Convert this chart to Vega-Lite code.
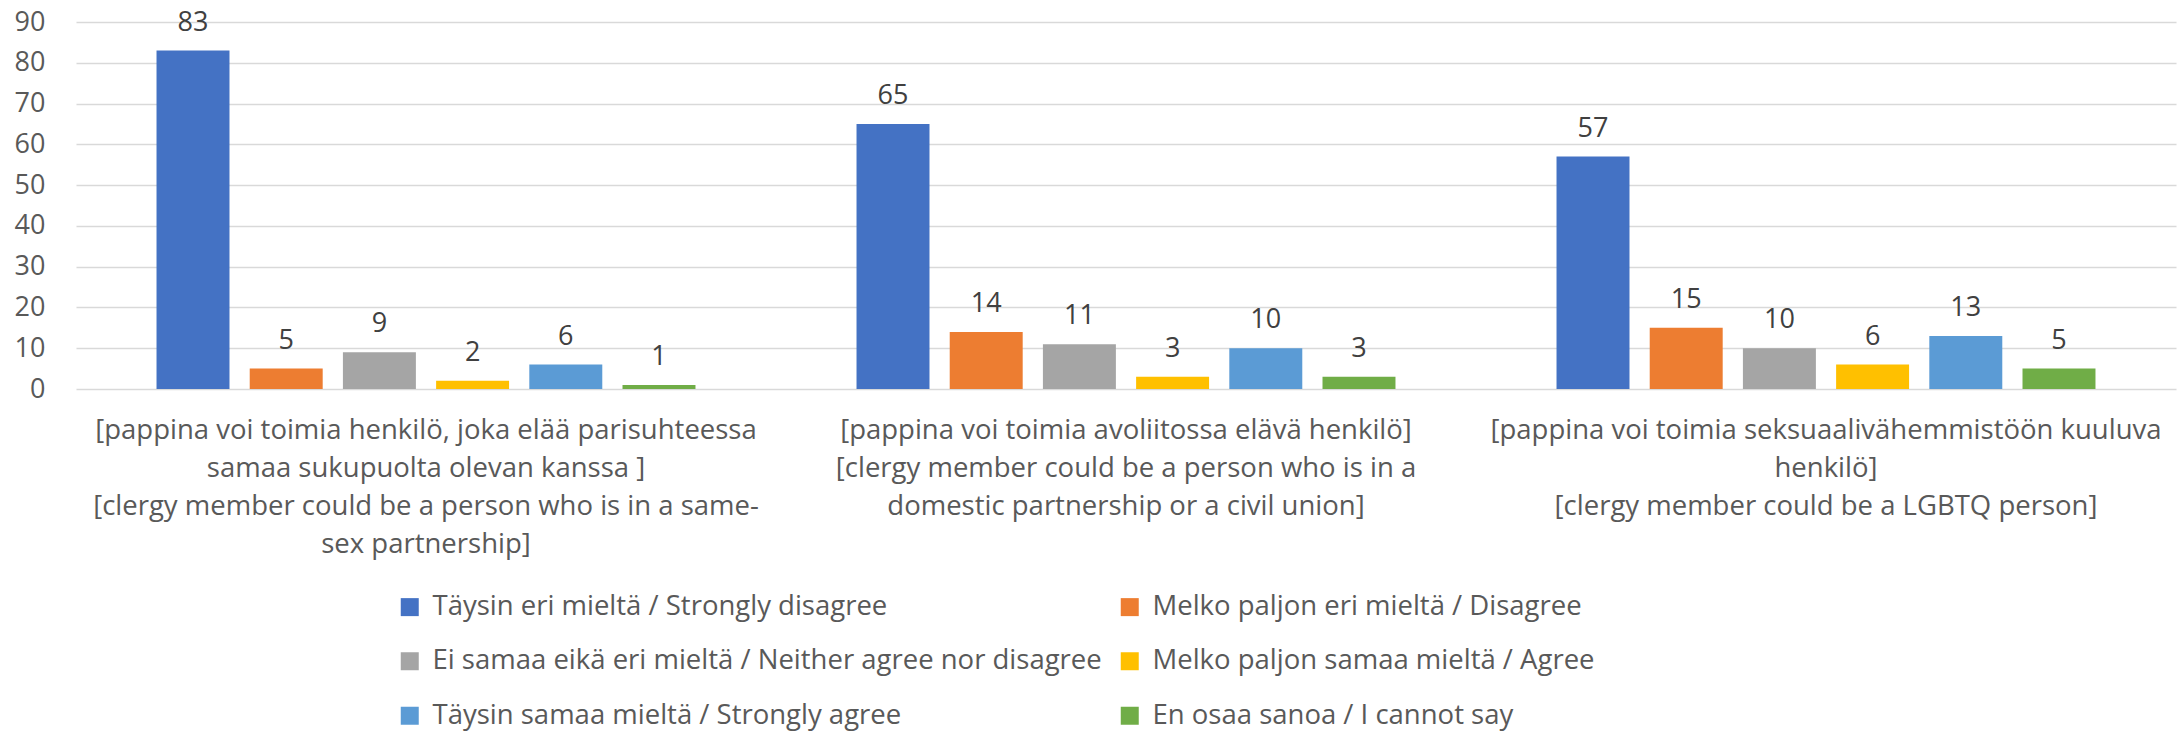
{
  "$schema": "https://vega.github.io/schema/vega-lite/v6.json",
  "width": 2100,
  "height": 367,
  "autosize": "none",
  "padding": {"left": 76, "top": 22, "right": 5, "bottom": 345},
  "background": "white",
  "config": {
    "font": "Open Sans",
    "view": {"stroke": null}
  },
  "datasets": {
    "d": [
      {"q": "[pappina voi toimia henkilö, joka elää parisuhteessa|samaa sukupuolta olevan kanssa ]|[clergy member could be a person who is in a same-|sex partnership]", "r": "Täysin eri mieltä / Strongly disagree", "v": 83},
      {"q": "[pappina voi toimia henkilö, joka elää parisuhteessa|samaa sukupuolta olevan kanssa ]|[clergy member could be a person who is in a same-|sex partnership]", "r": "Melko paljon eri mieltä / Disagree", "v": 5},
      {"q": "[pappina voi toimia henkilö, joka elää parisuhteessa|samaa sukupuolta olevan kanssa ]|[clergy member could be a person who is in a same-|sex partnership]", "r": "Ei samaa eikä eri mieltä / Neither agree nor disagree", "v": 9},
      {"q": "[pappina voi toimia henkilö, joka elää parisuhteessa|samaa sukupuolta olevan kanssa ]|[clergy member could be a person who is in a same-|sex partnership]", "r": "Melko paljon samaa mieltä / Agree", "v": 2},
      {"q": "[pappina voi toimia henkilö, joka elää parisuhteessa|samaa sukupuolta olevan kanssa ]|[clergy member could be a person who is in a same-|sex partnership]", "r": "Täysin samaa mieltä / Strongly agree", "v": 6},
      {"q": "[pappina voi toimia henkilö, joka elää parisuhteessa|samaa sukupuolta olevan kanssa ]|[clergy member could be a person who is in a same-|sex partnership]", "r": "En osaa sanoa / I cannot say", "v": 1},
      {"q": "[pappina voi toimia avoliitossa elävä henkilö]|[clergy member could be a person who is in a|domestic partnership or a civil union]", "r": "Täysin eri mieltä / Strongly disagree", "v": 65},
      {"q": "[pappina voi toimia avoliitossa elävä henkilö]|[clergy member could be a person who is in a|domestic partnership or a civil union]", "r": "Melko paljon eri mieltä / Disagree", "v": 14},
      {"q": "[pappina voi toimia avoliitossa elävä henkilö]|[clergy member could be a person who is in a|domestic partnership or a civil union]", "r": "Ei samaa eikä eri mieltä / Neither agree nor disagree", "v": 11},
      {"q": "[pappina voi toimia avoliitossa elävä henkilö]|[clergy member could be a person who is in a|domestic partnership or a civil union]", "r": "Melko paljon samaa mieltä / Agree", "v": 3},
      {"q": "[pappina voi toimia avoliitossa elävä henkilö]|[clergy member could be a person who is in a|domestic partnership or a civil union]", "r": "Täysin samaa mieltä / Strongly agree", "v": 10},
      {"q": "[pappina voi toimia avoliitossa elävä henkilö]|[clergy member could be a person who is in a|domestic partnership or a civil union]", "r": "En osaa sanoa / I cannot say", "v": 3},
      {"q": "[pappina voi toimia seksuaalivähemmistöön kuuluva|henkilö]|[clergy member could be a LGBTQ person]", "r": "Täysin eri mieltä / Strongly disagree", "v": 57},
      {"q": "[pappina voi toimia seksuaalivähemmistöön kuuluva|henkilö]|[clergy member could be a LGBTQ person]", "r": "Melko paljon eri mieltä / Disagree", "v": 15},
      {"q": "[pappina voi toimia seksuaalivähemmistöön kuuluva|henkilö]|[clergy member could be a LGBTQ person]", "r": "Ei samaa eikä eri mieltä / Neither agree nor disagree", "v": 10},
      {"q": "[pappina voi toimia seksuaalivähemmistöön kuuluva|henkilö]|[clergy member could be a LGBTQ person]", "r": "Melko paljon samaa mieltä / Agree", "v": 6},
      {"q": "[pappina voi toimia seksuaalivähemmistöön kuuluva|henkilö]|[clergy member could be a LGBTQ person]", "r": "Täysin samaa mieltä / Strongly agree", "v": 13},
      {"q": "[pappina voi toimia seksuaalivähemmistöön kuuluva|henkilö]|[clergy member could be a LGBTQ person]", "r": "En osaa sanoa / I cannot say", "v": 5}
    ]
  },
  "data": {"name": "d"},
  "encoding": {
    "x": {
      "field": "q", "type": "nominal", "sort": null,
      "scale": {"paddingInner": 0, "paddingOuter": 0},
      "axis": {
        "title": null, "labelAngle": 0, "ticks": false, "domain": false,
        "labelExpr": "split(datum.label, '|')",
        "labelFont": "Open Sans", "labelFontSize": 27.5, "labelColor": "#595959",
        "labelPadding": 27, "labelLineHeight": 38, "labelLimit": 1000,
        "labelBaseline": "top"
      }
    },
    "xOffset": {
      "field": "r", "type": "nominal",
      "sort": ["Täysin eri mieltä / Strongly disagree", "Melko paljon eri mieltä / Disagree", "Ei samaa eikä eri mieltä / Neither agree nor disagree", "Melko paljon samaa mieltä / Agree", "Täysin samaa mieltä / Strongly agree", "En osaa sanoa / I cannot say"],
      "scale": {"paddingInner": 0.217, "paddingOuter": 0.864}
    },
    "y": {
      "field": "v", "type": "quantitative",
      "scale": {"domain": [0, 90], "nice": false},
      "axis": {
        "title": null, "values": [0, 10, 20, 30, 40, 50, 60, 70, 80, 90],
        "ticks": false, "domain": false,
        "gridColor": "#D9D9D9", "gridWidth": 1.5,
        "labelFont": "Open Sans", "labelFontSize": 27, "labelColor": "#595959",
        "labelPadding": 31
      }
    }
  },
  "layer": [
    {
      "mark": {"type": "bar"},
      "encoding": {
        "color": {
          "field": "r", "type": "nominal",
          "scale": {
            "domain": ["Täysin eri mieltä / Strongly disagree", "Melko paljon eri mieltä / Disagree", "Ei samaa eikä eri mieltä / Neither agree nor disagree", "Melko paljon samaa mieltä / Agree", "Täysin samaa mieltä / Strongly agree", "En osaa sanoa / I cannot say"],
            "range": ["#4472C4", "#ED7D31", "#A5A5A5", "#FFC000", "#5B9BD5", "#70AD47"]
          },
          "legend": {
            "title": null, "orient": "none", "legendX": 320, "legendY": 571,
            "direction": "horizontal",
            "columns": 2, "columnPadding": 14, "rowPadding": 25.5,
            "symbolType": "square", "symbolSize": 324, "symbolStrokeWidth": 0,
            "labelFont": "Open Sans", "labelFontSize": 27.5, "labelColor": "#595959",
            "labelOffset": 9, "labelLimit": 1000, "padding": 0
          }
        }
      }
    },
    {
      "mark": {"type": "text", "baseline": "alphabetic", "dy": -20, "font": "Open Sans", "fontSize": 27, "color": "#404040"},
      "encoding": {
        "text": {"field": "v", "type": "quantitative"}
      }
    }
  ]
}
